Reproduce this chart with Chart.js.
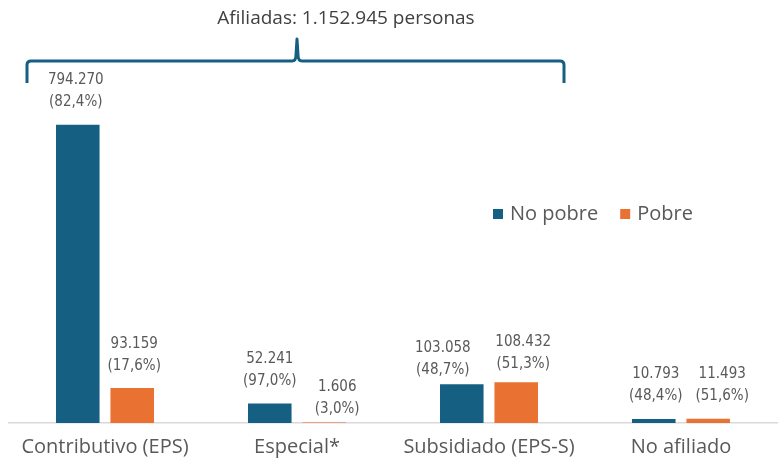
<!DOCTYPE html>
<html>
<head>
<meta charset="utf-8">
<script src="https://cdn.jsdelivr.net/npm/chart.js@4/dist/chart.umd.min.js"></script>
<style>
  html, body { margin: 0; padding: 0; background: #ffffff; }
  #wrap { width: 779px; height: 465px; position: relative; }
</style>
</head>
<body>
<div id="wrap"><canvas id="c"></canvas></div>
<script>
// ---- Data ----
const categories = ['Contributivo (EPS)', 'Especial*', 'Subsidiado (EPS-S)', 'No afiliado'];
const seriesNames = ['No pobre', 'Pobre'];
const noPobre = [794270, 52241, 103058, 10793];
const pobre = [93159, 1606, 108432, 11493];
const noPobrePct = ['82,4%', '97,0%', '48,7%', '48,4%'];
const pobrePct = ['17,6%', '3,0%', '51,3%', '51,6%'];
const totalLabel = 'Afiliadas: 1.152.945 personas';

// ---- Styles ----
const BLUE = '#156082';
const ORANGE = '#E97132';
const TEXT = '#595959';
const LABEL_FONT = "15px 'Liberation Sans Narrow', 'DejaVu Sans Condensed', sans-serif";

// manual label nudges (dx, dy) per dataset / category, mimicking the original placement
const labelNudge = [
  [[-2, 0], [0, 1], [-19, 9], [2, 0]],
  [[2, 1], [13, 10], [7, 5], [14, 0]]
];

function fmt(n) {
  return n.toString().replace(/\B(?=(\d{3})+(?!\d))/g, '.');
}

const pctLists = [noPobrePct, pobrePct];

const labelPlugin = {
  id: 'barLabels',
  afterDatasetsDraw(chart) {
    const ctx = chart.ctx;
    ctx.save();
    ctx.font = LABEL_FONT;
    ctx.fillStyle = TEXT;
    ctx.textAlign = 'center';
    ctx.textBaseline = 'middle';
    chart.data.datasets.forEach((ds, di) => {
      const meta = chart.getDatasetMeta(di);
      meta.data.forEach((bar, i) => {
        const [dx, dy] = labelNudge[di][i];
        const x = bar.x + dx;
        const y2 = bar.y - 23 + dy;
        const y1 = y2 - 22;
        ctx.fillText(fmt(ds.data[i]), x, y1);
        ctx.fillText('(' + pctLists[di][i] + ')', x, y2);
      });
    });
    ctx.restore();
  }
};

const bracePlugin = {
  id: 'brace',
  afterDraw(chart) {
    const ctx = chart.ctx;
    ctx.save();
    const x0 = 27, x1 = 564, xm = 297, yTop = 61, yEnd = 83, yTip = 39, r = 4;
    ctx.strokeStyle = BLUE;
    ctx.lineWidth = 3;
    ctx.lineJoin = 'round';
    ctx.beginPath();
    ctx.moveTo(x0, yEnd);
    ctx.lineTo(x0, yTop + r);
    ctx.quadraticCurveTo(x0, yTop, x0 + r, yTop);
    ctx.lineTo(xm - 5, yTop);
    ctx.quadraticCurveTo(xm - 1, yTop, xm - 1, yTop - 6);
    ctx.lineTo(xm, yTip);
    ctx.lineTo(xm + 1, yTop - 6);
    ctx.quadraticCurveTo(xm + 1, yTop, xm + 5, yTop);
    ctx.lineTo(x1 - r, yTop);
    ctx.quadraticCurveTo(x1, yTop, x1, yTop + r);
    ctx.lineTo(x1, yEnd);
    ctx.stroke();
    ctx.font = "19px 'Open Sans', sans-serif";
    ctx.fillStyle = '#404040';
    ctx.textAlign = 'center';
    ctx.textBaseline = 'middle';
    ctx.fillText(totalLabel, 346, 19);
    ctx.restore();
  }
};

const legendPlugin = {
  id: 'innerLegend',
  afterDraw(chart) {
    const ctx = chart.ctx;
    ctx.save();
    ctx.font = "20px 'Open Sans', sans-serif";
    ctx.textBaseline = 'middle';
    ctx.textAlign = 'left';
    let x = 493;
    const y = 214;
    chart.data.datasets.forEach((ds) => {
      ctx.fillStyle = ds.backgroundColor;
      ctx.fillRect(x, y - 5, 10, 10);
      ctx.fillStyle = TEXT;
      ctx.fillText(ds.label, x + 17, y);
      x += 17 + ctx.measureText(ds.label).width + 22;
    });
    ctx.restore();
  }
};

new Chart(document.getElementById('c'), {
  type: 'bar',
  data: {
    labels: categories,
    datasets: [
      { label: seriesNames[0], data: noPobre, backgroundColor: BLUE },
      { label: seriesNames[1], data: pobre, backgroundColor: ORANGE }
    ]
  },
  options: {
    responsive: true,
    maintainAspectRatio: false,
    animation: false,
    devicePixelRatio: 1,
    layout: { padding: { top: 20, left: 9, right: 2, bottom: -6 } },
    categoryPercentage: 0.567,
    barPercentage: 0.8,
    plugins: {
      legend: { display: false },
      tooltip: { enabled: false },
      title: { display: false }
    },
    scales: {
      x: {
        grid: { display: false, drawTicks: false },
        border: { display: true, color: '#d9d9d9', width: 1.5 },
        ticks: {
          color: TEXT,
          padding: 12,
          font: { family: "'Open Sans', sans-serif", size: 20 },
          maxRotation: 0
        }
      },
      y: {
        display: false,
        min: 0,
        max: 1073000
      }
    }
  },
  plugins: [labelPlugin, bracePlugin, legendPlugin]
});
</script>
</body>
</html>
